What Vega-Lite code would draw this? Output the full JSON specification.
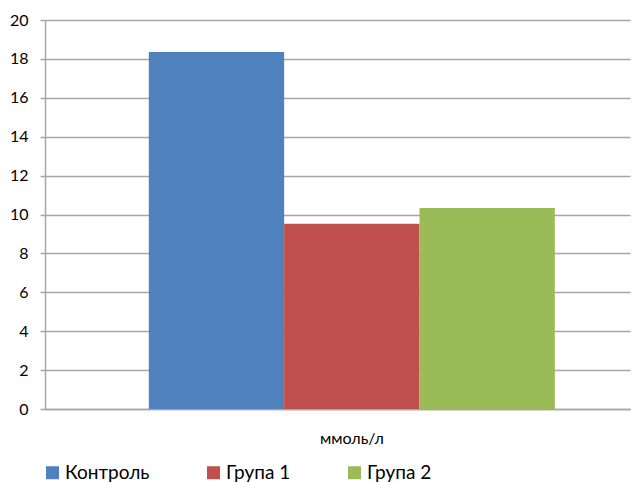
{
  "$schema": "https://vega.github.io/schema/vega-lite/v6.json",
  "width": 585,
  "height": 389,
  "autosize": {"type": "none"},
  "padding": {"left": 45, "top": 20, "right": 8, "bottom": 73},
  "background": "white",
  "data": {
    "values": [
      {"category": "ммоль/л", "group": "Контроль", "value": 18.36},
      {"category": "ммоль/л", "group": "Група 1", "value": 9.52},
      {"category": "ммоль/л", "group": "Група 2", "value": 10.34}
    ]
  },
  "mark": {"type": "bar"},
  "encoding": {
    "x": {
      "field": "category",
      "type": "nominal",
      "scale": {"paddingInner": 0, "paddingOuter": 0.2204, "align": 0.58},
      "axis": {
        "title": null,
        "labelAngle": 0,
        "ticks": false,
        "labelPadding": 21,
        "labelFontSize": 16,
        "labelFont": "Lato",
        "labelColor": "#000000",
        "domainColor": "#A6A6A6",
        "domainWidth": 1.5
      }
    },
    "xOffset": {
      "field": "group",
      "type": "nominal",
      "sort": ["Контроль", "Група 1", "Група 2"],
      "scale": {"paddingInner": 0, "paddingOuter": 0}
    },
    "y": {
      "field": "value",
      "type": "quantitative",
      "scale": {"domain": [0, 20], "nice": false},
      "axis": {
        "title": null,
        "values": [0, 2, 4, 6, 8, 10, 12, 14, 16, 18, 20],
        "grid": true,
        "gridColor": "#A6A6A6",
        "gridWidth": 1.5,
        "domainColor": "#A6A6A6",
        "domainWidth": 1.5,
        "tickColor": "#A6A6A6",
        "tickSize": 5,
        "tickWidth": 1.5,
        "labelPadding": 12,
        "labelFontSize": 16,
        "labelFont": "Lato",
        "labelColor": "#000000"
      }
    },
    "color": {
      "field": "group",
      "type": "nominal",
      "sort": ["Контроль", "Група 1", "Група 2"],
      "scale": {
        "domain": ["Контроль", "Група 1", "Група 2"],
        "range": ["#4F81BD", "#C0504D", "#9BBB59"]
      },
      "legend": {
        "title": null,
        "orient": "none",
        "legendX": -2,
        "legendY": 443,
        "direction": "horizontal",
        "columns": 3,
        "gridAlign": "each",
        "columnPadding": 54,
        "symbolType": "square",
        "symbolSize": 169,
        "symbolStrokeWidth": 0,
        "labelFont": "Lato",
        "labelFontSize": 19,
        "labelColor": "#000000",
        "labelOffset": 3
      }
    }
  },
  "config": {
    "view": {"stroke": null}
  }
}
